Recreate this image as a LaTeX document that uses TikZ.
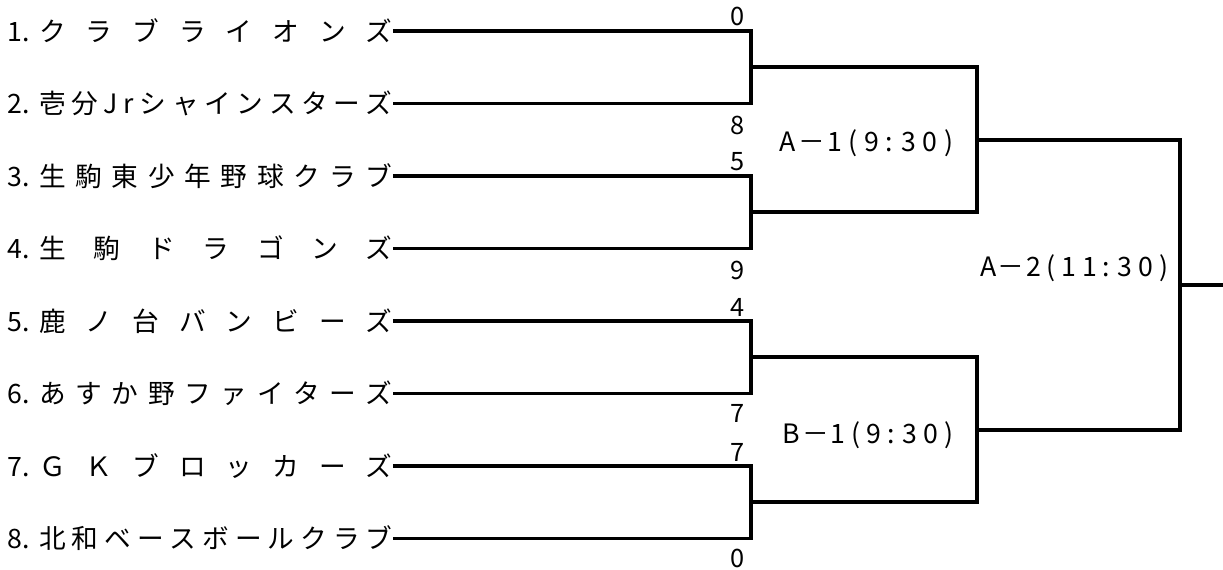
\documentclass[tikz,border=0pt]{standalone}
\usepackage{fontspec}
\setmainfont{Noto Sans CJK JP}
\usetikzlibrary{positioning}
\newcommand\teamno[1]{\makebox[24pt][l]{#1}}
\newcommand\teamchars[1]{\makebox[265pt][s]{#1}}
\newcommand\gamechars[2]{\makebox[#1][s]{#2}}
\newcommand\dash{\makebox[0.7em]{－}}

\begin{document}
\begin{tikzpicture}[x=0.75pt,y=-0.75pt,
  team/.style={anchor=west,inner sep=0pt,font=\fontsize{20}{24}\selectfont},
  score/.style={anchor=base east,inner sep=0pt,font=\fontsize{19}{22}\selectfont},
  game/.style={inner sep=0pt,font=\fontsize{20}{24}\selectfont},
  bracket/.style={draw,line width=2.6pt}]
\useasboundingbox (0,0) rectangle (1223,570);

\node[team] (t1) at (7,31) {\teamno{1.}\teamchars{ク ラ ブ ラ イ オ ン ズ}};
\node[team] (t2) at (7,103.5) {\teamno{2.}\teamchars{壱 分 J r シ ャ イ ン ス タ ー ズ}};
\node[team] (t3) at (7,176) {\teamno{3.}\teamchars{生 駒 東 少 年 野 球 ク ラ ブ}};
\node[team] (t4) at (7,248.5) {\teamno{4.}\teamchars{生 駒 ド ラ ゴ ン ズ}};
\node[team] (t5) at (7,321) {\teamno{5.}\teamchars{鹿 ノ 台 バ ン ビ ー ズ}};
\node[team] (t6) at (7,393.5) {\teamno{6.}\teamchars{あ す か 野 フ ァ イ タ ー ズ}};
\node[team] (t7) at (7,466) {\teamno{7.}\teamchars{Ｇ Ｋ ブ ロ ッ カ ー ズ}};
\node[team] (t8) at (7,538.5) {\teamno{8.}\teamchars{北 和 ベ ー ス ボ ー ル ク ラ ブ}};

% joints of the bracket
\coordinate (a1) at (751,67);
\coordinate (a2) at (751,212);
\coordinate (b1) at (751,357);
\coordinate (b2) at (751,502);
\coordinate (c1) at (977,140);
\coordinate (c2) at (977,430);
\coordinate (w) at (1180,285);
\coordinate (out) at (1223,285);

\path[bracket] (t1.east) -| (a1) |- (t2.east);
\path[bracket] (t3.east) -| (a2) |- (t4.east);
\path[bracket] (t5.east) -| (b1) |- (t6.east);
\path[bracket] (t7.east) -| (b2) |- (t8.east);

\path[bracket] (a1) -| (c1) |- (a2);
\path[bracket] (b1) -| (c2) |- (b2);
\path[bracket] (c1) -| (w) |- (c2);
\path[bracket] (w) -- (out);

\node[score] (s1) at (745,26) {0};
\node[score] (s2) at (745,134.5) {8};
\node[score] (s3) at (745,171) {5};
\node[score] (s4) at (745,279.5) {9};
\node[score] (s5) at (745,316) {4};
\node[score] (s6) at (745,422) {7};
\node[score] (s7) at (745,461) {7};
\node[score] (s8) at (745,567.5) {0};

\node[game] (g1) at (866.5,143) {\gamechars{130pt}{A \dash{} 1 ( 9 : 3 0 )}};
\node[game] (g2) at (868,435) {\gamechars{128pt}{B \dash{} 1 ( 9 : 3 0 )}};
\node[game] (g3) at (1074,268) {\gamechars{141pt}{A \dash{} 2 ( 1 1 : 3 0 )}};
\end{tikzpicture}
\end{document}
